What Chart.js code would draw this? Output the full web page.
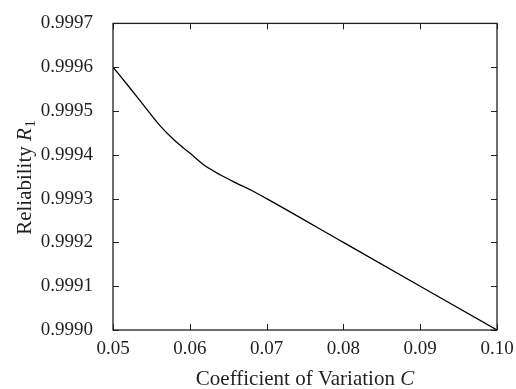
<!DOCTYPE html>
<html>
<head>
<meta charset="utf-8">
<script src="https://cdn.jsdelivr.net/npm/chart.js@4.4.0/dist/chart.umd.min.js"></script>
<style>
  html, body { margin: 0; padding: 0; background: #fff; }
  #wrap { width: 516px; height: 389px; position: relative; }
</style>
</head>
<body>
<div id="wrap"><canvas id="chart" width="516" height="389"></canvas></div>
<script>
const coeffValues = [0.050, 0.052, 0.054, 0.056, 0.058, 0.060, 0.062, 0.064, 0.066, 0.068, 0.070, 0.080, 0.090, 0.100];
const reliabilityValues = [0.99960, 0.999557, 0.999513, 0.999469, 0.999433, 0.999404, 0.999375, 0.999354, 0.999336, 0.999319, 0.99930, 0.99920, 0.99910, 0.99900];
const xTitle = 'Coefficient of Variation ';
const xTitleVar = 'C';
const yTitle = 'Reliability ';
const yTitleVar = 'R';
const yTitleSub = '1';

const serif = '"Liberation Serif", "DejaVu Serif", serif';
const ink = '#231f20';

// inward ticks on all four sides, frame and axis titles
const framePlugin = {
  id: 'frame',
  afterDraw(chart) {
    const ctx = chart.ctx;
    const a = chart.chartArea;
    const xs = chart.scales.x;
    const ys = chart.scales.y;
    const len = 6;
    ctx.save();
    ctx.strokeStyle = ink;
    ctx.lineWidth = 1.3;
    ctx.strokeRect(a.left, a.top, a.right - a.left, a.bottom - a.top);
    ctx.lineWidth = 1;
    ctx.beginPath();
    xs.ticks.forEach(t => {
      const px = Math.round(xs.getPixelForValue(t.value)) + 0.5;
      ctx.moveTo(px, a.bottom); ctx.lineTo(px, a.bottom - len);
      ctx.moveTo(px, a.top); ctx.lineTo(px, a.top + len);
    });
    ys.ticks.forEach(t => {
      const py = Math.round(ys.getPixelForValue(t.value)) + 0.5;
      ctx.moveTo(a.left, py); ctx.lineTo(a.left + len, py);
      ctx.moveTo(a.right, py); ctx.lineTo(a.right - len, py);
    });
    ctx.stroke();

    ctx.fillStyle = ink;
    ctx.textBaseline = 'alphabetic';
    // x title
    ctx.font = '21px ' + serif;
    const w1 = ctx.measureText(xTitle).width;
    ctx.font = 'italic 21px ' + serif;
    const w2 = ctx.measureText(xTitleVar).width;
    let sx = (a.left + a.right) / 2 - (w1 + w2) / 2;
    ctx.font = '21px ' + serif;
    ctx.fillText(xTitle, sx, 385);
    ctx.font = 'italic 21px ' + serif;
    ctx.fillText(xTitleVar, sx + w1, 385);

    // y title
    ctx.translate(31, 178);
    ctx.rotate(-Math.PI / 2);
    ctx.font = '21px ' + serif;
    const v1 = ctx.measureText(yTitle).width;
    ctx.font = 'italic 21px ' + serif;
    const v2 = ctx.measureText(yTitleVar).width;
    ctx.font = '14px ' + serif;
    const v3 = ctx.measureText(yTitleSub).width;
    let sy = -(v1 + v2 + v3) / 2;
    ctx.font = '21px ' + serif;
    ctx.fillText(yTitle, sy, 0);
    ctx.font = 'italic 21px ' + serif;
    ctx.fillText(yTitleVar, sy + v1, 0);
    ctx.font = '14px ' + serif;
    ctx.fillText(yTitleSub, sy + v1 + v2 + 1, 4);
    ctx.restore();
  }
};

const ctx = document.getElementById('chart').getContext('2d');
new Chart(ctx, {
  type: 'line',
  data: {
    datasets: [{
      data: coeffValues.map((c, i) => ({ x: c, y: reliabilityValues[i] })),
      borderColor: '#000',
      borderWidth: 1.3,
      pointRadius: 0,
      fill: false,
      cubicInterpolationMode: 'monotone'
    }]
  },
  options: {
    responsive: false,
    animation: false,
    layout: { padding: { top: 20, right: 19, left: 0, bottom: 0 } },
    scales: {
      x: {
        type: 'linear',
        min: 0.05,
        max: 0.10,
        grid: { display: false },
        border: { display: false },
        ticks: {
          stepSize: 0.01,
          padding: 0,
          color: ink,
          font: { family: serif, size: 19 },
          maxRotation: 0,
          callback: v => v.toFixed(2)
        },
        afterFit: s => { s.height = 59; }
      },
      y: {
        min: 0.9990,
        max: 0.9997,
        grid: { display: false },
        border: { display: false },
        ticks: {
          stepSize: 0.0001,
          padding: 12,
          color: ink,
          font: { family: serif, size: 19 },
          callback: v => v.toFixed(4)
        },
        afterFit: s => { s.width = 113; }
      }
    },
    plugins: {
      legend: { display: false },
      tooltip: { enabled: false }
    }
  },
  plugins: [framePlugin]
});
</script>
</body>
</html>
